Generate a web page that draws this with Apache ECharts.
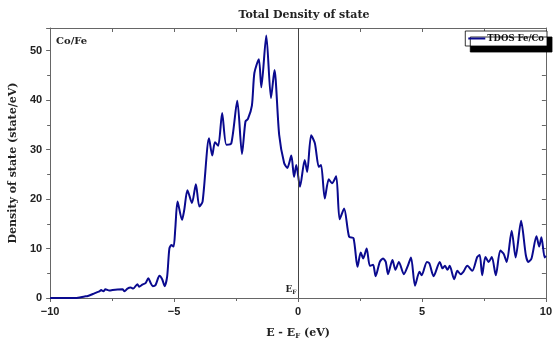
<!DOCTYPE html>
<html>
<head>
<meta charset="utf-8">
<script src="https://cdn.jsdelivr.net/npm/echarts@6/dist/echarts.min.js"></script>
<style>
  html, body { margin: 0; padding: 0; background: #fff; }
  #chart { width: 555px; height: 345px; }
</style>
</head>
<body>
<div id="chart"></div>
<script>
// Energy relative to the Fermi level (eV)
const energies = [
  -10, -9.0, -8.87, -8.61, -8.48, -8.28, -8.14, -8.01, -7.94, -7.85, -7.77, -7.61, -7.48, -7.28, -7.08, -7.0,
  -6.88, -6.75, -6.65, -6.48, -6.41, -6.28, -6.15, -6.04, -5.95, -5.86, -5.75, -5.59, -5.48, -5.38, -5.28,
  -5.19, -5.11, -5.02, -4.95, -4.86, -4.68, -4.59, -4.46, -4.28, -4.12, -3.98, -3.85, -3.59, -3.46, -3.35,
  -3.22, -3.06, -2.89, -2.69, -2.45, -2.26, -2.12, -2.02, -1.86, -1.76, -1.58, -1.48, -1.28, -1.09, -0.95,
  -0.76, -0.56, -0.43, -0.27, -0.16, -0.07, 0.08, 0.27, 0.37, 0.53, 0.68, 0.84, 0.93, 1.08, 1.24, 1.37,
  1.54, 1.68, 1.86, 2.06, 2.24, 2.40, 2.53, 2.63, 2.77, 2.90, 3.03, 3.13, 3.30, 3.43, 3.54, 3.63, 3.81,
  3.93, 4.07, 4.27, 4.43, 4.56, 4.72, 4.90, 4.99, 5.20, 5.30, 5.47, 5.72, 5.83, 5.93, 6.03, 6.12, 6.30,
  6.43, 6.56, 6.67, 6.83, 7.03, 7.23, 7.33, 7.43, 7.56, 7.69, 7.82, 7.98, 8.16, 8.29, 8.42, 8.62, 8.78,
  9.00, 9.19, 9.29, 9.42, 9.62, 9.73, 9.82, 9.95, 10.0
];

// Total DOS of Fe/Co (states/eV)
const tdos = [
  0, 0, 0.05, 0.3, 0.4, 0.8, 1.1, 1.35, 1.6, 1.35, 1.75, 1.5, 1.6, 1.7, 1.75, 1.35,
  1.9, 2.1, 1.9, 2.8, 2.3, 2.7, 3.0, 4.0, 3.1, 2.4, 2.6, 4.5, 3.8, 2.4, 4.3,
  10.0, 10.7, 10.4, 14.1, 19.5, 15.8, 17.8, 21.8, 19.2, 23.0, 18.5, 19.5, 32.3, 28.8, 31.5,
  30.8, 37.4, 31.0, 31.3, 39.9, 29.1, 35.7, 36.2, 38.9, 45.5, 48.3, 42.6, 53.1, 40.4, 46.1,
  33.0, 27.3, 26.3, 28.8, 24.5, 26.9, 22.5, 27.9, 25.5, 32.9, 31.3, 26.5, 26.9, 20.1, 24.0, 23.2,
  24.6, 15.9, 18.1, 12.4, 12.1, 6.3, 9.2, 8.0, 10.0, 6.5, 6.7, 4.4, 7.3, 8.0, 7.3, 4.8, 7.7,
  5.7, 7.3, 4.8, 6.5, 8.2, 2.5, 5.3, 4.6, 7.3, 7.0, 4.4, 7.3, 6.0, 6.5, 5.7, 6.5, 3.8,
  5.5, 4.8, 5.3, 6.5, 5.5, 8.3, 8.7, 4.6, 8.3, 7.3, 8.3, 4.6, 9.6, 9.0, 7.3, 13.6, 8.2,
  15.6, 8.7, 7.3, 8.0, 12.5, 10.4, 12.3, 8.2, 8.5
];

const xTicks = [-10, -5, 0, 5, 10];
const yTicks = [0, 10, 20, 30, 40, 50];

const serif = '"DejaVu Serif", serif';
const sans = '"Liberation Sans", Arial, sans-serif';
const frameColor = '#666';
const lineColor = '#0a0a8f';

const points = energies.map((e, i) => [e, tdos[i]]);

const chart = echarts.init(document.getElementById('chart'), null, { renderer: 'canvas' });

const subRich = {
  a: { fontFamily: serif, fontWeight: 'bold', fontSize: 11, color: '#222' },
  s: { fontFamily: serif, fontWeight: 'bold', fontSize: 7, color: '#222', padding: [6, 0, 0, 0] }
};

chart.setOption({
  animation: false,
  backgroundColor: '#fff',
  title: [
    {
      text: 'Total Density of state',
      left: 299, top: 5, textAlign: 'center',
      textStyle: { fontFamily: serif, fontWeight: 'bold', fontSize: 11, color: '#222' }
    },
    {
      text: 'Co/Fe',
      left: 51, top: 31,
      textStyle: { fontFamily: serif, fontWeight: 'bold', fontSize: 10, color: '#222' }
    }
  ],
  legend: {
    data: [{ name: 'TDOS Fe/Co', icon: 'rect' }],
    right: 8, top: 31,
    backgroundColor: '#fff',
    borderColor: '#000', borderWidth: 0.8,
    padding: [3, 3, 3, 3],
    shadowColor: '#000', shadowBlur: 0, shadowOffsetX: 5, shadowOffsetY: 6,
    itemWidth: 17, itemHeight: 2, itemGap: 4,
    textStyle: { fontFamily: serif, fontWeight: 'bold', fontSize: 8.5, color: '#111', padding: [0, 0, 0, -3] }
  },
  grid: { left: 48, right: 6, top: 28, bottom: 47, containLabel: false },
  xAxis: [
    {
      type: 'value', min: xTicks[0], max: xTicks[xTicks.length - 1], interval: 5,
      position: 'bottom',
      axisLine: { show: true, onZero: false, lineStyle: { color: frameColor, width: 1 } },
      axisTick: { show: true, inside: false, length: 4, lineStyle: { color: frameColor } },
      minorTick: { show: true, splitNumber: 2, length: 3, lineStyle: { color: frameColor } },
      splitLine: { show: false },
      axisLabel: {
        margin: 8, fontFamily: sans, fontWeight: 'bold', fontSize: 11, color: '#222',
        formatter: v => String(v).replace('-', '\u2212')
      },
      name: '{a|E - E}{s|F}{a| (eV)}',
      nameLocation: 'middle', nameGap: 29,
      nameTextStyle: { rich: subRich }
    },
    {
      type: 'value', min: xTicks[0], max: xTicks[xTicks.length - 1], interval: 2.5,
      position: 'top',
      axisLine: { show: true, onZero: false, lineStyle: { color: frameColor, width: 1 } },
      axisTick: { show: true, inside: true, length: 4, lineStyle: { color: frameColor } },
      splitLine: { show: false },
      axisLabel: { show: false }
    }
  ],
  yAxis: [
    {
      type: 'value', min: yTicks[0], max: 54.6, interval: 10,
      position: 'left',
      axisLine: { show: true, onZero: false, lineStyle: { color: frameColor, width: 1 } },
      axisTick: { show: true, inside: false, length: 4, lineStyle: { color: frameColor } },
      minorTick: { show: true, splitNumber: 2, length: 3, lineStyle: { color: frameColor } },
      splitLine: { show: false },
      axisLabel: {
        margin: 8, fontFamily: sans, fontWeight: 'bold', fontSize: 11, color: '#222',
        showMaxLabel: false,
        formatter: v => (yTicks.indexOf(v) >= 0 ? String(v) : '')
      },
      name: 'Density of state (state/eV)',
      nameLocation: 'middle', nameGap: 31,
      nameTextStyle: { fontFamily: serif, fontWeight: 'bold', fontSize: 11, color: '#222' }
    },
    {
      type: 'value', min: yTicks[0], max: 54.6, interval: 5,
      position: 'right',
      axisLine: { show: true, onZero: false, lineStyle: { color: frameColor, width: 1 } },
      axisTick: { show: true, inside: true, length: 4, lineStyle: { color: frameColor } },
      splitLine: { show: false },
      axisLabel: { show: false }
    }
  ],
  series: [
    {
      name: 'TDOS Fe/Co',
      type: 'line',
      xAxisIndex: 0, yAxisIndex: 0,
      data: points,
      smooth: 0.25,
      showSymbol: false, symbol: 'none',
      lineStyle: { color: lineColor, width: 2 },
      itemStyle: { color: lineColor },
      markLine: {
        silent: true, symbol: 'none',
        lineStyle: { color: '#444', width: 1, type: 'solid' },
        label: { show: false },
        data: [{ xAxis: 0 }]
      },
      markPoint: {
        silent: true,
        symbol: 'circle', symbolSize: 1,
        itemStyle: { color: 'rgba(0,0,0,0)' },
        label: {
          show: true, position: 'left', distance: 1, offset: [0, -8],
          formatter: '{a|E}{s|F}',
          rich: {
            a: { fontFamily: serif, fontWeight: 'bold', fontSize: 9, color: '#222' },
            s: { fontFamily: serif, fontWeight: 'bold', fontSize: 6, color: '#222', padding: [5, 0, 0, 0] }
          }
        },
        data: [{ coord: [0, 0] }]
      }
    }
  ]
});
</script>
</body>
</html>
